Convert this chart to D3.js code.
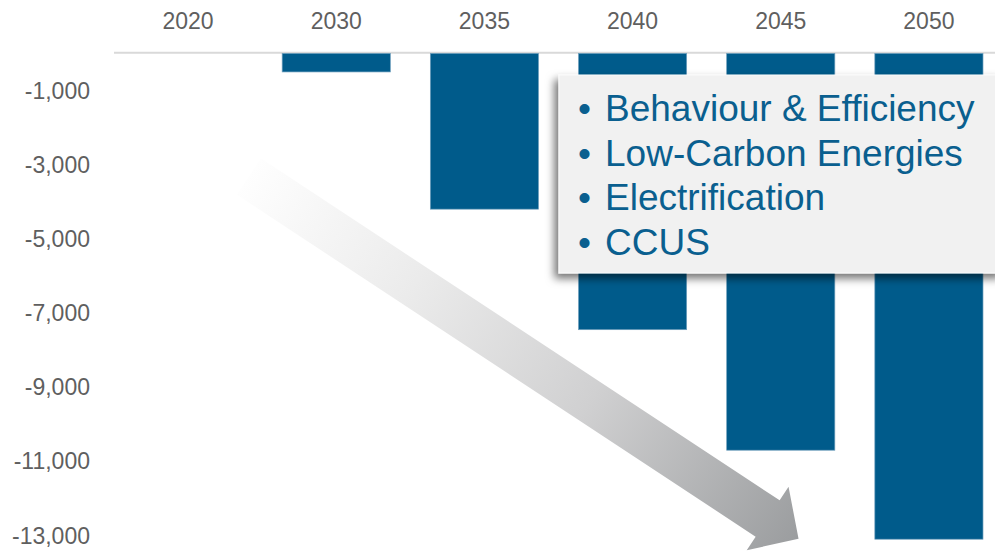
<!DOCTYPE html>
<html>
<head>
<meta charset="utf-8">
<script src="https://cdn.jsdelivr.net/npm/d3@7"></script>
<style>
  html, body { margin: 0; padding: 0; background: #ffffff; }
  svg { display: block; font-family: "Liberation Sans", Arial, sans-serif; }
</style>
</head>
<body>
<svg id="chart" width="995" height="553"></svg>
<script>
// Emission reductions by year (negative = reduction)
const years = ["2020", "2030", "2035", "2040", "2045", "2050"];
const reductions = [0, -500, -4200, -7450, -10700, -13100];
const tickValues = [-1000, -3000, -5000, -7000, -9000, -11000, -13000];
const tickLabels = ["-1,000", "-3,000", "-5,000", "-7,000", "-9,000", "-11,000", "-13,000"];
const levers = ["Behaviour & Efficiency", "Low-Carbon Energies", "Electrification", "CCUS"];

// Trend arrow anchors: [band index offset, value]
const arrowTail = [0.41, -3320];
const arrowTip = [4.12, -13090];

const W = 995, H = 553;
const svg = d3.select("#chart");

const x = d3.scaleBand()
  .domain(years)
  .range([114, 1003])
  .paddingInner(0.27)
  .paddingOuter(0.135);

const y = d3.scaleLinear()
  .domain([0, -13000])
  .range([53.4, 535.5]);

const barColor = "#005b8b";
const textColor = "#5f5f5f";

const defs = svg.append("defs");

// Gradient for the trend arrow: nearly white at the tail, grey at the head
const xPos = (p) => x(years[0]) + x.bandwidth() / 2 + p * x.step();
const tx = xPos(arrowTail[0]), ty = y(arrowTail[1]);
const hx = xPos(arrowTip[0]), hy = y(arrowTip[1]);

const grad = defs.append("linearGradient")
  .attr("id", "arrowGrad")
  .attr("gradientUnits", "userSpaceOnUse")
  .attr("x1", tx).attr("y1", ty)
  .attr("x2", hx).attr("y2", hy);
grad.append("stop").attr("offset", "0%").attr("stop-color", "#fefefe");
grad.append("stop").attr("offset", "30%").attr("stop-color", "#ebebeb");
grad.append("stop").attr("offset", "62%").attr("stop-color", "#d0d0d1");
grad.append("stop").attr("offset", "100%").attr("stop-color", "#9b9d9f");

const shadow = defs.append("filter")
  .attr("id", "boxShadow")
  .attr("x", "-10%").attr("y", "-15%")
  .attr("width", "120%").attr("height", "135%");
shadow.append("feDropShadow")
  .attr("dx", -4).attr("dy", 5)
  .attr("stdDeviation", 4)
  .attr("flood-color", "#000")
  .attr("flood-opacity", 0.55);

// Year labels along the top
svg.append("g")
  .selectAll("text")
  .data(years)
  .join("text")
  .attr("x", d => x(d) + x.bandwidth() / 2)
  .attr("y", 29)
  .attr("text-anchor", "middle")
  .attr("font-size", 23)
  .attr("fill", textColor)
  .text(d => d);

// Value labels on the left
svg.append("g")
  .selectAll("text")
  .data(tickValues)
  .join("text")
  .attr("x", 90)
  .attr("y", d => y(d))
  .attr("dy", "0.35em")
  .attr("text-anchor", "end")
  .attr("font-size", 23)
  .attr("fill", textColor)
  .text((d, i) => tickLabels[i]);

// Zero baseline
svg.append("line")
  .attr("x1", 114).attr("x2", W)
  .attr("y1", y(0) - 0.6).attr("y2", y(0) - 0.6)
  .attr("stroke", "#d9d9d9")
  .attr("stroke-width", 2);

// Bars
svg.append("g")
  .selectAll("rect")
  .data(years.map((yr, i) => ({ yr, v: reductions[i] })).filter(d => d.v < 0))
  .join("rect")
  .attr("x", d => x(d.yr))
  .attr("y", y(0))
  .attr("width", x.bandwidth())
  .attr("height", d => y(d.v) - y(0))
  .attr("fill", barColor)
  .attr("stroke", "#6f9fbd")
  .attr("stroke-width", 0.7);

// Trend arrow
(function drawArrow() {
  const dx = hx - tx, dy = hy - ty;
  const len = Math.hypot(dx, dy);
  const ux = dx / len, uy = dy / len;
  const nx = -uy, ny = ux;
  const shaftHalf = 21.8, headHalf = 38, headLen = 37;
  const bx = hx - ux * headLen, by = hy - uy * headLen;
  const pts = [
    [tx + nx * shaftHalf, ty + ny * shaftHalf],
    [bx + nx * shaftHalf, by + ny * shaftHalf],
    [bx + nx * headHalf, by + ny * headHalf],
    [hx, hy],
    [bx - nx * headHalf, by - ny * headHalf],
    [bx - nx * shaftHalf, by - ny * shaftHalf],
    [tx - nx * shaftHalf, ty - ny * shaftHalf]
  ];
  svg.append("path")
    .attr("d", d3.line()(pts) + "Z")
    .attr("fill", "url(#arrowGrad)");
})();

// Lever list box
const box = svg.append("g");
box.append("rect")
  .attr("x", 559).attr("y", 75)
  .attr("width", 445).attr("height", 198)
  .attr("fill", "#f1f1f1")
  .attr("stroke", "#fbfbfb")
  .attr("stroke-width", 1)
  .attr("filter", "url(#boxShadow)");

const item = box.selectAll("g.item")
  .data(levers)
  .join("g")
  .attr("class", "item")
  .attr("transform", (d, i) => `translate(0, ${121 + i * 44.6})`);
item.append("text")
  .attr("x", 578)
  .attr("font-size", 37)
  .attr("fill", "#0a5f8f")
  .text("\u2022");
item.append("text")
  .attr("x", 605)
  .attr("font-size", 37)
  .attr("fill", "#0a5f8f")
  .text(d => d);
</script>
</body>
</html>
